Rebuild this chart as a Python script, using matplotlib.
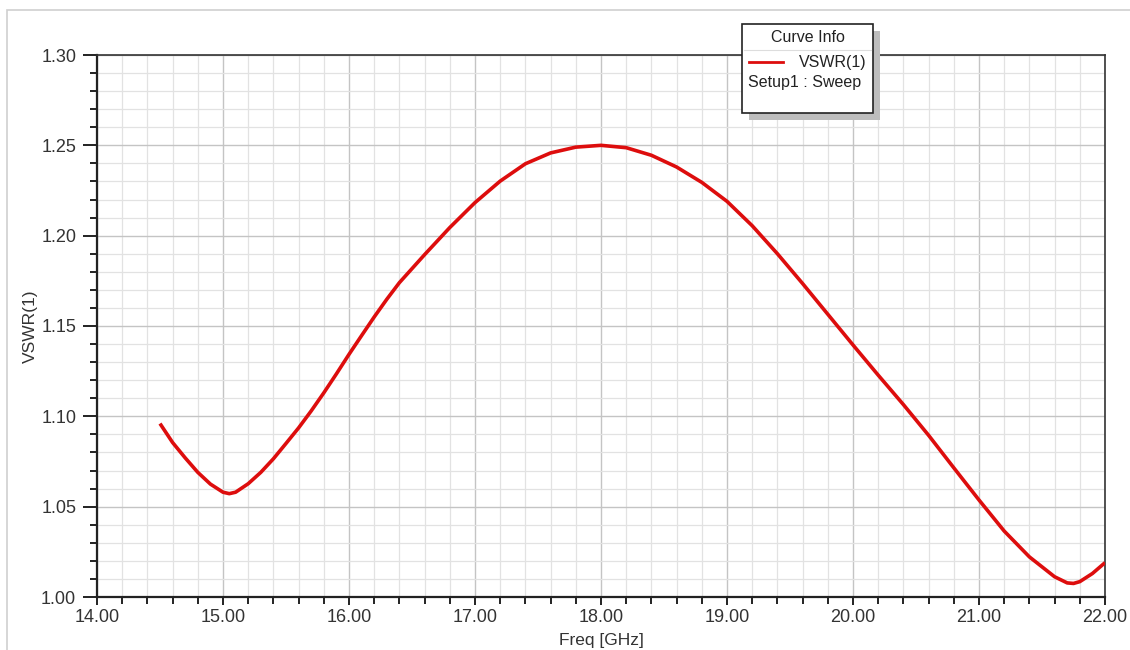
import matplotlib
matplotlib.use("Agg")
import matplotlib.pyplot as plt
from matplotlib.ticker import MultipleLocator, FormatStrFormatter
from matplotlib.patches import Rectangle
from matplotlib.lines import Line2D

freq_ghz = [14.50, 14.60, 14.70, 14.80, 14.90, 15.00, 15.05, 15.10, 15.20, 15.30,
            15.40, 15.50, 15.60, 15.70, 15.80, 15.90, 16.00, 16.10, 16.20, 16.30,
            16.40, 16.60, 16.80, 17.00, 17.20, 17.40, 17.60, 17.80, 18.00, 18.20,
            18.40, 18.60, 18.80, 19.00, 19.20, 19.40, 19.60, 19.80, 20.00, 20.20,
            20.40, 20.60, 20.80, 21.00, 21.20, 21.40, 21.60, 21.70, 21.75, 21.80,
            21.90, 22.00]
vswr = [1.096, 1.0855, 1.077, 1.069, 1.0625, 1.058, 1.0572, 1.058, 1.0627, 1.069,
        1.0765, 1.085, 1.0936, 1.103, 1.113, 1.1235, 1.1343, 1.1447, 1.155, 1.1648,
        1.174, 1.1895, 1.2045, 1.2183, 1.2302, 1.2398, 1.2458, 1.249, 1.250, 1.2487,
        1.2445, 1.238, 1.2295, 1.219, 1.2055, 1.190, 1.1735, 1.1565, 1.1395, 1.1228,
        1.1065, 1.0895, 1.0715, 1.0537, 1.0365, 1.0222, 1.0112, 1.0078, 1.0075, 1.0085,
        1.013, 1.019]

x_range = (14.0, 22.0)
y_range = (1.00, 1.30)
curve_name = "VSWR(1)"
setup_name = "Setup1 : Sweep"

plt.rcParams['font.family'] = ['Liberation Sans', 'DejaVu Sans']

W, H = 1130, 650
fig = plt.figure(figsize=(W / 100, H / 100), dpi=100)
fig.patch.set_facecolor('white')

# outer light frame
fig.patches.append(Rectangle((7 / W, -0.1), 1.2, 1 - 10 / H + 0.1, transform=fig.transFigure,
                             fill=False, edgecolor='#cfcfcf', linewidth=1.2, zorder=0))

L, R, T, B = 97, 1105, 55, 597
ax = fig.add_axes([L / W, 1 - B / H, (R - L) / W, (B - T) / H])
ax.set_xlim(*x_range)
ax.set_ylim(*y_range)

ax.xaxis.set_major_locator(MultipleLocator(1.0))
ax.xaxis.set_minor_locator(MultipleLocator(0.2))
ax.yaxis.set_major_locator(MultipleLocator(0.05))
ax.yaxis.set_minor_locator(MultipleLocator(0.01))
ax.xaxis.set_major_formatter(FormatStrFormatter('%.2f'))
ax.yaxis.set_major_formatter(FormatStrFormatter('%.2f'))

ax.grid(True, which='minor', color='#e2e2e2', linewidth=0.9, zorder=0)
ax.grid(True, which='major', color='#c4c4c4', linewidth=1.0, zorder=0)
ax.set_axisbelow(True)

ax.tick_params(axis='x', which='major', direction='out', length=6, width=1.4,
               labelsize=13, colors='#222222', labelcolor='#333333', pad=3)
ax.tick_params(axis='x', which='minor', direction='out', length=5, width=1.4, colors='#222222')
ax.tick_params(axis='y', which='major', direction='out', length=10, width=1.4,
               labelsize=13, colors='#222222', labelcolor='#333333', pad=5)
ax.tick_params(axis='y', which='minor', direction='out', length=5, width=1.4, colors='#222222')

for side in ['left', 'bottom']:
    ax.spines[side].set_linewidth(1.6)
    ax.spines[side].set_color('#222222')
for side in ['top', 'right']:
    ax.spines[side].set_linewidth(1.2)
    ax.spines[side].set_color('#333333')

ax.plot(freq_ghz, vswr, color='#dd0d0d', linewidth=2.6, solid_capstyle='butt',
        solid_joinstyle='round', zorder=3)

ax.set_xlabel('Freq [GHz]', fontsize=12.5, color='#333333', va='center')
ax.xaxis.set_label_coords((601 - L) / (R - L), (B - 641) / (B - T))
ax.set_ylabel('VSWR(1)', fontsize=12.5, color='#333333', va='center')
ax.yaxis.set_label_coords((30 - L) / (R - L), (B - 326) / (B - T))

# legend box "Curve Info" with shadow
bx0, by0, bx1, by1 = 742, 24, 873, 113
sh = 7
fig.patches.append(Rectangle(((bx0 + sh) / W, 1 - (by1 + sh) / H), (bx1 - bx0) / W, (by1 - by0) / H,
                             transform=fig.transFigure, facecolor='#bdbdbd', edgecolor='none', zorder=5))
fig.patches.append(Rectangle((bx0 / W, 1 - by1 / H), (bx1 - bx0) / W, (by1 - by0) / H,
                             transform=fig.transFigure, facecolor='white', edgecolor='#222222',
                             linewidth=1.2, zorder=6))
fig.lines.append(Line2D([(bx0 + 2) / W, (bx1 - 2) / W], [1 - 50 / H, 1 - 50 / H], transform=fig.transFigure,
                        color='#dddddd', linewidth=0.8, zorder=7))
fig.text((bx0 + bx1) / 2 / W, 1 - 38 / H, 'Curve Info', ha='center', va='center',
         fontsize=11.5, color='#222222', zorder=8)
fig.lines.append(Line2D([749 / W, 783 / W], [1 - 62 / H, 1 - 62 / H], transform=fig.transFigure,
                        color='#dd0d0d', linewidth=2.0, zorder=8))
fig.text(867 / W, 1 - 63 / H, curve_name, ha='right', va='center', fontsize=11.5, color='#222222', zorder=8)
fig.text(748 / W, 1 - 83 / H, setup_name, ha='left', va='center', fontsize=11.5, color='#222222', zorder=8)

fig.savefig('out.png', dpi=100, facecolor='white')
